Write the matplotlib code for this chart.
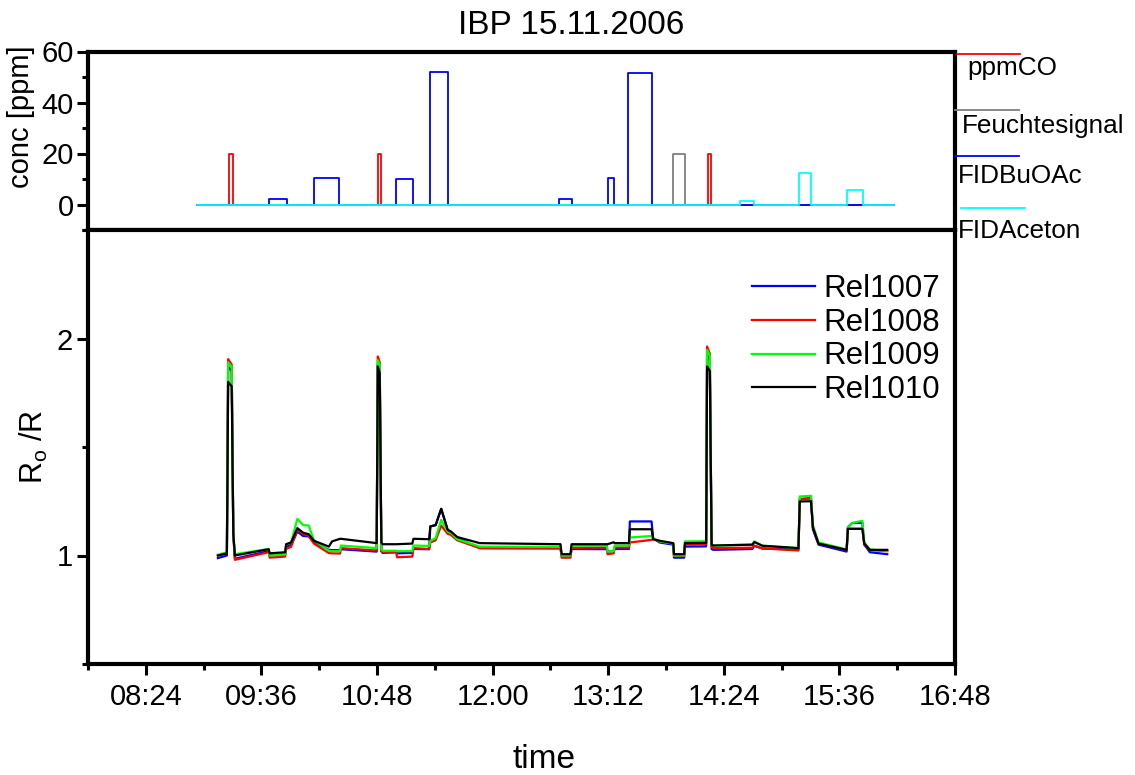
import numpy as np
import matplotlib
matplotlib.use("Agg")
import matplotlib.pyplot as plt
from matplotlib.ticker import FixedLocator, FuncFormatter
from matplotlib.lines import Line2D

plt.rcParams['font.family'] = ['Liberation Sans', 'DejaVu Sans']
plt.rcParams['mathtext.fontset'] = 'custom'
plt.rcParams['mathtext.rm'] = 'Liberation Sans'
plt.rcParams['mathtext.it'] = 'Liberation Sans'

# ---------------- data (time in minutes since midnight) ----------------
title = "IBP 15.11.2006"

# upper panel: gas concentrations (ppm), baseline 0 with rectangular pulses
conc_start_t = 536.0
conc_end_t = 970.0
co_starts = [556.0, 648.5, 853.9]
co_ends = [558.5, 650.2, 856.2]
co_levels = [20, 20, 20]
feuchte_starts = [832.3]
feuchte_ends = [839.8]
feuchte_levels = [20]
buoac_starts = [580.7, 608.6, 660.0, 681.0, 761.5, 791.7, 804.6]
buoac_ends = [591.8, 624.6, 670.5, 692.0, 769.5, 795.6, 819.0]
buoac_levels = [2.2, 10.2, 10.0, 52.0, 2.0, 10.3, 51.5]
aceton_starts = [874.4, 910.7, 940.9]
aceton_ends = [882.5, 918.2, 950.7]
aceton_levels = [1.3, 12.3, 5.6]
conc_labels = ["ppmCO", "Feuchtesignal", "FIDBuOAc", "FIDAceton"]

# lower panel: sensor responses R0/R
t_sensor = [548.9, 554.5, 555.3, 557.5, 558.5, 559.5, 580.5, 581.2, 590.8, 591.4,
            594.5, 598.4, 602.0, 605.5, 608.7, 618.0, 620.0, 625.0, 625.5, 647.8,
            648.5, 649.7, 650.7, 651.5, 660.0, 660.5, 670.0, 670.7, 680.5, 681.2,
            684.5, 688.0, 692.0, 694.0, 698.0, 712.0, 762.3, 763.0, 768.5, 769.2,
            791.2, 791.6, 795.4, 796.0, 804.9, 805.5, 819.0, 820.0, 824.0, 832.5,
            833.0, 839.3, 839.8, 853.0, 853.6, 855.3, 856.4, 857.5, 881.8, 883.0,
            888.0, 910.5, 911.3, 918.3, 919.5, 923.0, 940.5, 941.3, 944.0, 950.3,
            951.5, 955.0, 965.8]
rel1007 = [0.988, 1.0, 1.87, 1.85, 1.1, 0.985, 1.02, 1.0, 1.005, 1.04,
           1.05, 1.11, 1.09, 1.088, 1.06, 1.026, 1.025, 1.024, 1.029, 1.018,
           1.88, 1.85, 1.02, 1.012, 1.015, 1.01, 1.012, 1.03, 1.029, 1.134,
           1.14, 1.215, 1.118, 1.11, 1.08, 1.034, 1.033, 1.0, 1.0, 1.03,
           1.029, 1.018, 1.02, 1.03, 1.03, 1.157, 1.157, 1.08, 1.06, 1.05,
           0.99, 0.99, 1.041, 1.042, 1.94, 1.90, 1.03, 1.026, 1.03, 1.045,
           1.032, 1.028, 1.26, 1.265, 1.12, 1.05, 1.018, 1.13, 1.15, 1.15,
           1.05, 1.015, 1.006]
rel1008 = [1.0, 1.01, 1.905, 1.88, 1.1, 0.98, 1.015, 0.99, 0.995, 1.03,
           1.04, 1.118, 1.1, 1.09, 1.055, 1.011, 1.01, 1.009, 1.034, 1.023,
           1.917, 1.89, 1.02, 1.015, 1.015, 0.992, 0.995, 1.034, 1.03, 1.06,
           1.07, 1.138, 1.1, 1.095, 1.07, 1.034, 1.033, 0.99, 0.99, 1.035,
           1.037, 1.006, 1.01, 1.037, 1.037, 1.06, 1.072, 1.075, 1.065, 1.055,
           0.998, 0.998, 1.05, 1.052, 1.963, 1.93, 1.04, 1.034, 1.036, 1.045,
           1.033, 1.023, 1.26, 1.262, 1.13, 1.055, 1.025, 1.123, 1.123, 1.123,
           1.05, 1.025, 1.02]
rel1009 = [1.003, 1.015, 1.89, 1.87, 1.1, 1.006, 1.03, 1.0, 1.005, 1.05,
           1.06, 1.169, 1.14, 1.138, 1.07, 1.022, 1.02, 1.02, 1.046, 1.034,
           1.90, 1.88, 1.03, 1.022, 1.022, 1.02, 1.02, 1.046, 1.044, 1.068,
           1.08, 1.164, 1.11, 1.105, 1.075, 1.041, 1.04, 1.0, 1.0, 1.045,
           1.046, 1.018, 1.02, 1.046, 1.046, 1.083, 1.09, 1.08, 1.065, 1.055,
           1.0, 1.0, 1.065, 1.066, 1.948, 1.92, 1.05, 1.046, 1.05, 1.065,
           1.045, 1.034, 1.272, 1.275, 1.14, 1.06, 1.028, 1.13, 1.15, 1.16,
           1.06, 1.028, 1.022]
rel1010 = [1.0, 1.01, 1.80, 1.78, 1.1, 1.0, 1.029, 1.01, 1.015, 1.052,
           1.06, 1.126, 1.105, 1.098, 1.068, 1.041, 1.065, 1.077, 1.077, 1.057,
           1.871, 1.84, 1.06, 1.052, 1.052, 1.052, 1.055, 1.077, 1.075, 1.134,
           1.14, 1.215, 1.118, 1.11, 1.085, 1.057, 1.052, 1.006, 1.006, 1.052,
           1.052, 1.052, 1.061, 1.057, 1.057, 1.121, 1.121, 1.075, 1.068, 1.057,
           1.006, 1.006, 1.057, 1.058, 1.871, 1.85, 1.05, 1.046, 1.05, 1.062,
           1.045, 1.034, 1.249, 1.25, 1.13, 1.055, 1.026, 1.123, 1.123, 1.123,
           1.055, 1.026, 1.026]
sensor_labels = ["Rel1007", "Rel1008", "Rel1009", "Rel1010"]

x_major_ticks = [504, 576, 648, 720, 792, 864, 936, 1008]
x_minor_ticks = [468, 540, 612, 684, 756, 828, 900, 972]

# ---------------- figure ----------------
W, H = 1135, 775
fig = plt.figure(figsize=(W / 100, H / 100), dpi=100)

def fx(px):
    return px / W

def fy(py):
    return 1 - py / H

L, R = 88, 955
T1, M, B = 51.5, 230, 664
ax1 = fig.add_axes([fx(L), fy(M), fx(R - L), (M - T1) / H])
ax2 = fig.add_axes([fx(L), fy(B), fx(R - L), (B - M) / H])

def pulse_trace(starts, ends, levels):
    xs, ys = [conc_start_t], [0.0]
    for s, e, l in zip(starts, ends, levels):
        xs += [s, s, e, e]
        ys += [0.0, l, l, 0.0]
    xs.append(conc_end_t)
    ys.append(0.0)
    return xs, ys

top_colors = ["#ff0000", "#808080", "#0000ff", "#00ffff"]
top_series = [(co_starts, co_ends, co_levels),
              (feuchte_starts, feuchte_ends, feuchte_levels),
              (buoac_starts, buoac_ends, buoac_levels),
              (aceton_starts, aceton_ends, aceton_levels)]
for (s, e, l), c, lab in zip(top_series, top_colors, conc_labels):
    xs, ys = pulse_trace(s, e, l)
    ax1.plot(xs, ys, color=c, lw=1.3, label=lab)

bot_colors = ["#0000ff", "#ff0000", "#00ff00", "#000000"]
handles = []
for vals, c, lab in zip([rel1007, rel1008, rel1009, rel1010], bot_colors, sensor_labels):
    h, = ax2.plot(t_sensor, vals, color=c, lw=1.6, label=lab)
    handles.append(h)

for ax in (ax1, ax2):
    ax.set_xlim(468, 1008)
    for sp in ax.spines.values():
        sp.set_linewidth(3)
    ax.tick_params(which='major', direction='out', length=8, width=2.2)
    ax.tick_params(which='minor', direction='out', length=4, width=2.2)

# upper axis
ax1.set_ylim(-10, 60)
ax1.yaxis.set_major_locator(FixedLocator([0, 20, 40, 60]))
ax1.yaxis.set_minor_locator(FixedLocator([-10, 10, 30, 50]))
ax1.tick_params(axis='y', labelsize=21, pad=2)
ax1.tick_params(axis='x', which='both', bottom=False, labelbottom=False)
ax1.set_ylabel("conc [ppm]", fontsize=21)
ax1.yaxis.label.set_va('center')
ax1.yaxis.set_label_coords((21 - L) / (R - L), (M - 117) / (M - T1))

# lower axis
ax2.set_ylim(0.5, 2.5)
ax2.yaxis.set_major_locator(FixedLocator([1, 2]))
ax2.yaxis.set_minor_locator(FixedLocator([0.5, 1.5, 2.5]))
ax2.yaxis.set_major_formatter(FuncFormatter(lambda v, p: "%d" % v))
ax2.xaxis.set_major_locator(FixedLocator(x_major_ticks))
ax2.xaxis.set_minor_locator(FixedLocator(x_minor_ticks))
ax2.xaxis.set_major_formatter(FuncFormatter(lambda v, p: "%02d:%02d" % (int(v) // 60, int(v) % 60)))
ax2.tick_params(axis='y', labelsize=21, pad=3)
ax2.tick_params(axis='x', labelsize=21, pad=6)
ax2.set_ylabel(r"R$_\mathregular{o}$ /R", fontsize=22)
ax2.yaxis.label.set_va('center')
ax2.yaxis.set_label_coords((34 - L) / (R - L), 0.5)
ax2.set_xlabel("time", fontsize=24)
ax2.xaxis.label.set_va('center')
ax2.xaxis.set_label_coords((544 - L) / (R - L), -(760 - B) / (B - M))

ax2.legend(handles, sensor_labels, loc='upper left',
           bbox_to_anchor=((752 - L) / (R - L), (B - 274) / (B - M)),
           frameon=False, fontsize=22.5, handlelength=2.0, handletextpad=0.3,
           labelspacing=0.12, borderpad=0, borderaxespad=0)

# title
fig.text(fx(571), fy(26), title, ha='center', va='center', fontsize=24)

# upper legend (Origin-style: line above each label)
leg_line_y = [54, 110, 156, 208]
leg_line_x = [(957, 1020), (955, 1019), (955, 1019), (961, 1025)]
leg_text_x = [967, 962, 958, 958]
leg_text_base = [75, 133, 183, 238]
for c, lab, ly, (x0, x1), tx, tb in zip(top_colors, conc_labels, leg_line_y,
                                         leg_line_x, leg_text_x, leg_text_base):
    fig.add_artist(Line2D([fx(x0), fx(x1)], [fy(ly), fy(ly)], color=c, lw=1.3,
                          transform=fig.transFigure))
    fig.text(fx(tx), fy(tb), lab, ha='left', va='baseline', fontsize=18.8)

fig.savefig("out.png", dpi=100)
